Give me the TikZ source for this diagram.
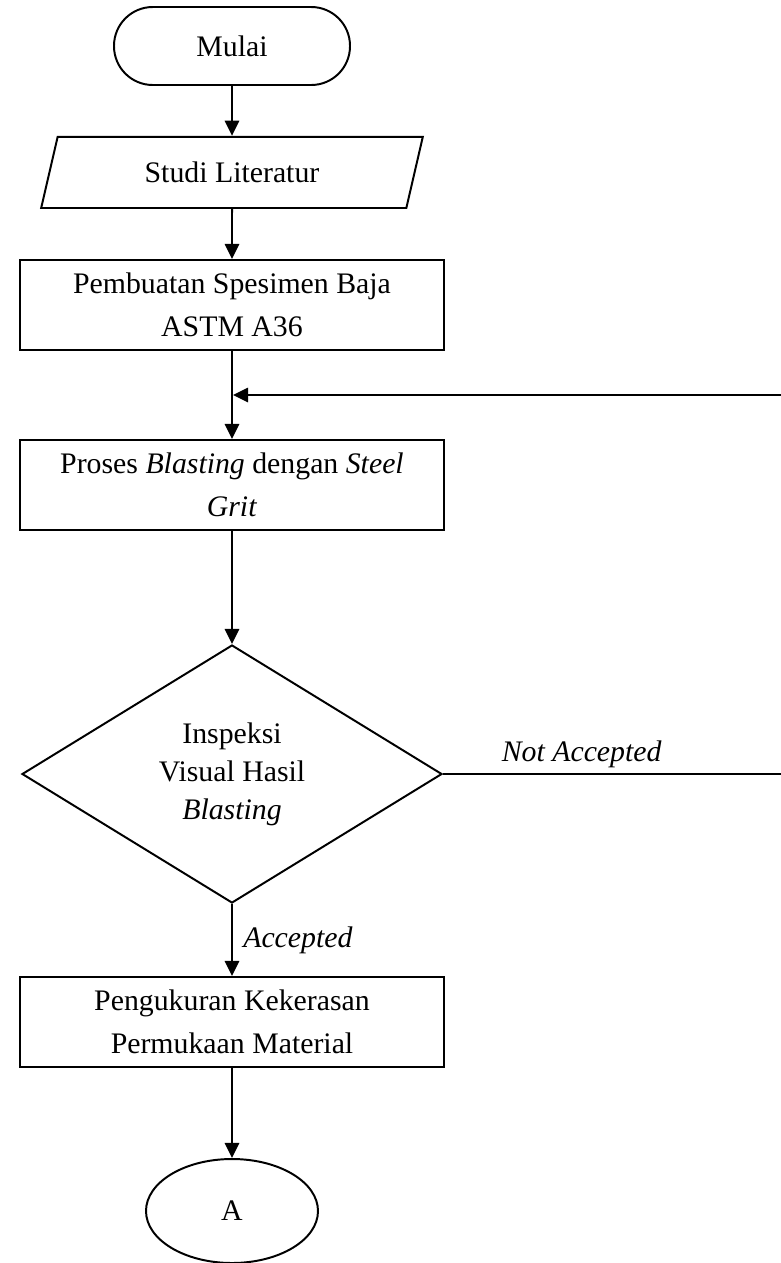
\documentclass[tikz,border=0pt]{standalone}
\usepackage{fontspec}
\setmainfont{Liberation Serif}
\usetikzlibrary{shapes,arrows.meta,positioning,calc}

\begin{document}
\begin{tikzpicture}[
    >={Triangle[length=3.8mm,width=3.6mm]},
    line width=1.4pt,
    every node/.style={font=\fontsize{21.2}{30.5}\selectfont},
    terminal/.style={draw, rounded corners=0.97cm, minimum width=5.9cm, minimum height=1.95cm},
    io/.style={draw, trapezium, trapezium left angle=74, trapezium right angle=106,
        trapezium stretches=true, minimum width=9.55cm, minimum height=1.78cm},
    process/.style={draw, align=center, minimum width=10.6cm, minimum height=2.25cm},
    decision/.style={draw, diamond, align=center, minimum width=10.5cm, minimum height=6.45cm,
        inner sep=0pt, font=\fontsize{21.2}{27}\selectfont},
    connector/.style={draw, ellipse, minimum width=4.3cm, minimum height=2.6cm}
]
    \useasboundingbox (0,0) rectangle (19.525,-31.575);

    % Flow
    \node[terminal] (mulai) at (5.8,-1.15) {Mulai};
    \node[io] (studi) at (5.8,-4.31) {Studi Literatur};
    \node[process] (spesimen) at (5.8,-7.625) {Pembuatan Spesimen Baja\\ASTM A36};
    \node[process] (blasting) at (5.8,-12.125) {Proses \textit{Blasting} dengan \textit{Steel}\\\textit{Grit}};
    \node[decision] (inspeksi) at (5.8,-19.35) {Inspeksi\\Visual Hasil\\\textit{Blasting}};
    \node[process] (ukur) at (5.8,-25.55) {Pengukuran Kekerasan\\Permukaan Material};
    \node[connector] (A) at (5.8,-30.275) {A};

    % Arrows
    \draw[->] (mulai) -- (studi);
    \draw[->] (studi) -- (spesimen);
    \draw[->] (spesimen) -- (blasting);
    \draw[->] (blasting) -- (inspeksi);
    \draw[->] (inspeksi) -- node[right, xshift=4pt] {\textit{Accepted}} (ukur);
    \draw[->] (ukur) -- (A);

    % Loop back
    \coordinate (join) at ($(spesimen.south)!0.5!(blasting.north)$);
    \coordinate (edge) at (20.2,-19.35);
    \draw[->] (inspeksi.east) -- node[above, pos=0.38] {\textit{Not Accepted}} (edge)
        |- ([xshift=0.7pt]join);
\end{tikzpicture}
\end{document}
